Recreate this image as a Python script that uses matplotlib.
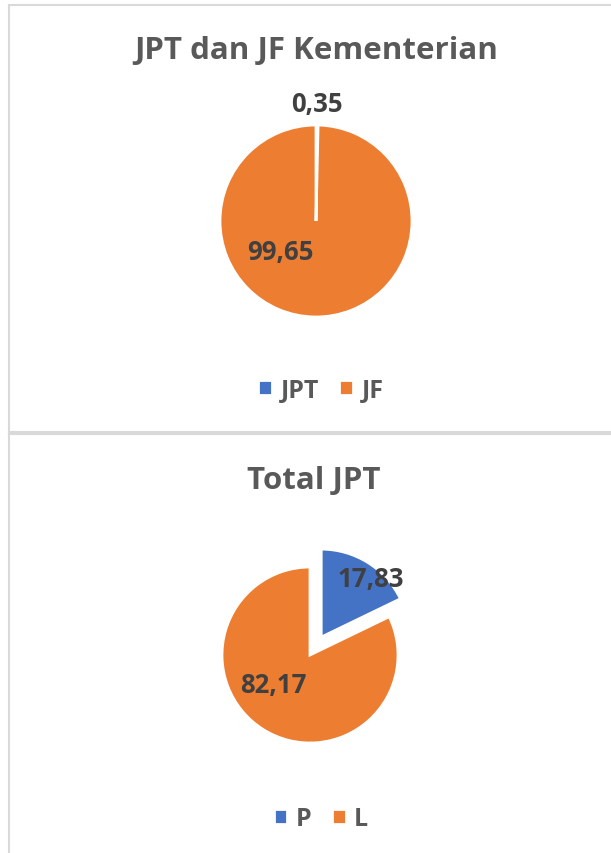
import numpy as np
import matplotlib.pyplot as plt
from matplotlib.lines import Line2D

# data
top_title = 'JPT dan JF Kementerian'
top_labels = ['JPT', 'JF']
top_values = [0.35, 99.65]

bottom_title = 'Total JPT'
bottom_labels = ['P', 'L']
bottom_values = [17.83, 82.17]

BLUE = '#4472C4'
ORANGE = '#ED7D31'
TITLE_C = '#595959'
LABEL_C = '#404040'
FONT = ['Open Sans', 'DejaVu Sans']

W, H = 611, 854
fig = plt.figure(figsize=(W / 100, H / 100), dpi=100)
plt.rcParams['font.family'] = FONT


def px_axes(cx, cy, r, lim):
    # axes placed so the unit circle has radius r px centred at (cx, cy)
    side = 2 * r * lim
    return fig.add_axes([(cx - side / 2) / W, (H - cy - side / 2) / H, side / W, side / H])


def fmt(v):
    return f'{v:.2f}'.replace('.', ',')


def draw_pie(ax, values, labels, explode, label_pos, lim):
    wedges, _ = ax.pie(values, colors=[BLUE, ORANGE], startangle=90, counterclock=False,
                       explode=explode, wedgeprops=dict(edgecolor='white', linewidth=2))
    for v, (d, ang) in zip(values, label_pos):
        a = np.deg2rad(ang)
        ax.text(d * np.cos(a), d * np.sin(a), fmt(v), ha='center', va='center',
                fontsize=18.5, fontweight='bold', color=LABEL_C)
    ax.set_xlim(-lim, lim)
    ax.set_ylim(-lim, lim)
    ax.set_aspect('equal')
    ax.axis('off')
    return wedges


def legend(wedges, labels, x, y):
    fig.legend(wedges, labels, loc='center', bbox_to_anchor=(x / W, 1 - y / H), ncol=2,
               frameon=False, handlelength=0.55, handleheight=0.55, columnspacing=0.8,
               handletextpad=0.35, prop=dict(weight='bold', size=18),
               labelcolor=TITLE_C)


# top chart
ax1 = px_axes(316, 222, 96, 1.5)
w1 = draw_pie(ax1, top_values, top_labels, [0, 0], [(1.22, 89.5), (0.49, 220)], 1.5)
fig.text(316 / W, 1 - 51 / H, top_title, ha='center', va='center', fontsize=22.5,
         fontweight='bold', color=TITLE_C)
legend(w1, top_labels, 321, 391)

# bottom chart
ax2 = px_axes(310, 656, 88, 1.5)
w2 = draw_pie(ax2, bottom_values, bottom_labels, [0.24, 0], [(1.107, 51.3), (0.54, 219)], 1.5)
fig.text(314 / W, 1 - 481 / H, bottom_title, ha='center', va='center', fontsize=22.5,
         fontweight='bold', color=TITLE_C)
legend(w2, bottom_labels, 321, 820)

# panel borders
BORDER = '#D9D9D9'
for xs, ys in [([8.5, 8.5], [6, H]), ([8.5, W], [6, 6]),
               ([8.5, W], [432.5, 432.5]), ([8.5, W], [434.5, 434.5])]:
    fig.add_artist(Line2D([x / W for x in xs], [1 - y / H for y in ys],
                          color=BORDER, linewidth=1.5))

fig.savefig('out.png', dpi=100)
